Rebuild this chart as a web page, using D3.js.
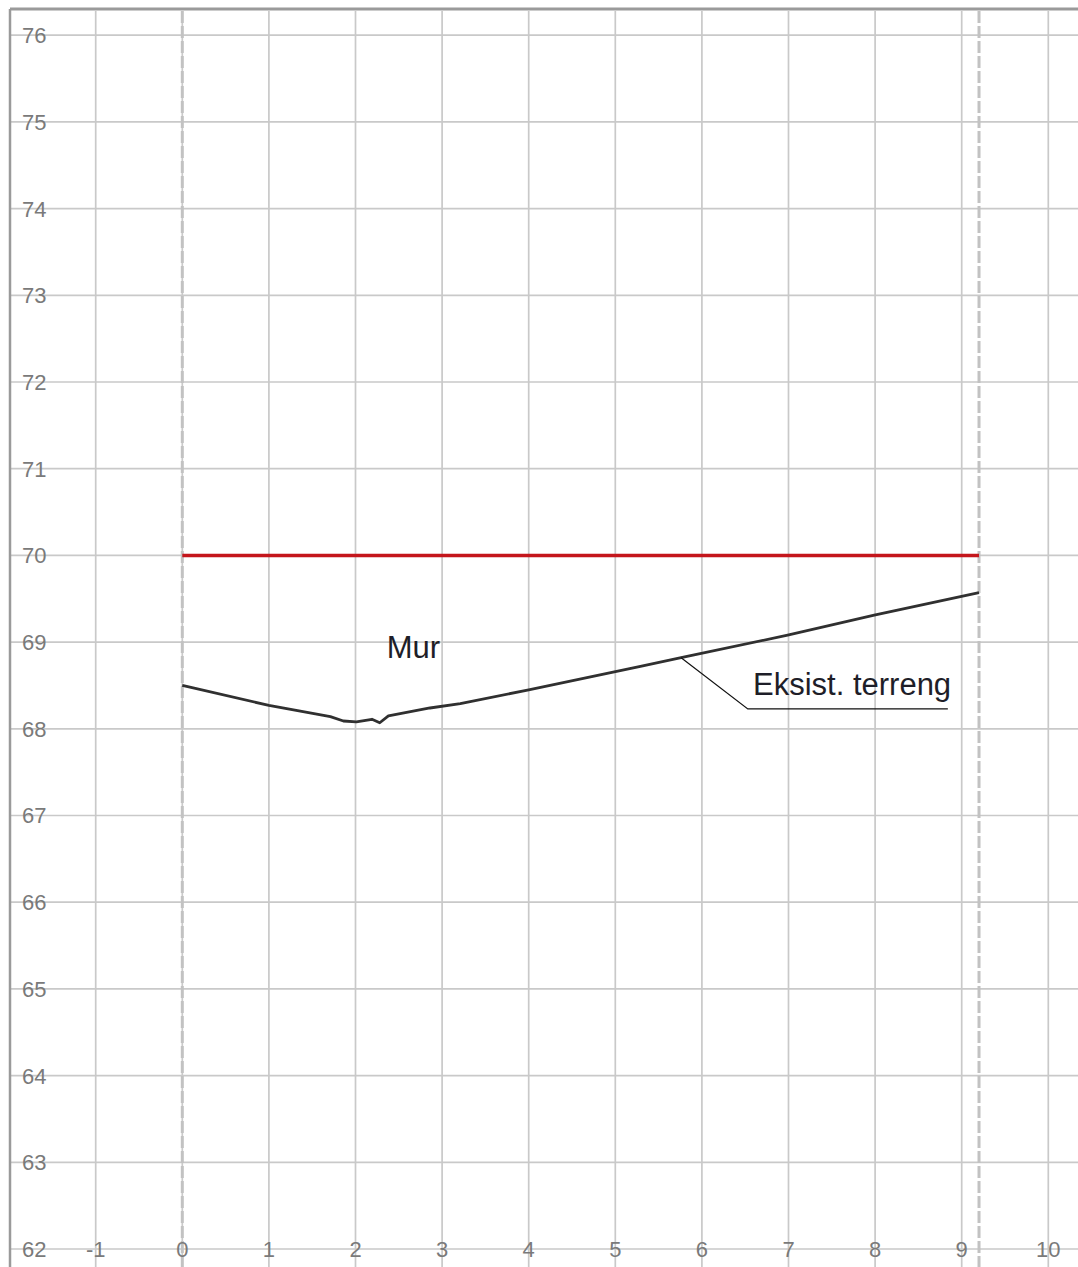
<!DOCTYPE html>
<html>
<head>
<meta charset="utf-8">
<script src="https://cdn.jsdelivr.net/npm/d3@7"></script>
<style>
  body { margin: 0; background: #fff; }
  svg { display: block; font-family: 'Liberation Sans', Arial, sans-serif; }
</style>
</head>
<body>
<svg id="chart" width="1078" height="1267"></svg>
<script>
// profile data (distance, level)
const terrainX = [0, 1.0, 1.71, 1.86, 2.01, 2.19, 2.28, 2.38, 2.86, 3.21, 4.0, 5.29, 5.76, 6.99, 7.99, 9.2];
const terrainY = [68.5, 68.27, 68.14, 68.09, 68.08, 68.11, 68.07, 68.15, 68.24, 68.29, 68.45, 68.72, 68.82, 69.08, 69.31, 69.57];
const wallX = [0, 9.2];
const wallY = [70, 70];
const boundaryX = [0, 9.2];
const xTicks = [-1, 0, 1, 2, 3, 4, 5, 6, 7, 8, 9, 10];
const yTicks = [62, 63, 64, 65, 66, 67, 68, 69, 70, 71, 72, 73, 74, 75, 76];
const labels = [
  { text: 'Mur', x: 2.36, y: 68.82 },
  { text: 'Eksist. terreng', x: 6.59, y: 68.39 },
];
const leaderX = [5.76, 6.53, 8.84];
const leaderY = [68.82, 68.23, 68.23];

const svg = d3.select('#chart');
const W = 1078, H = 1267;
const frame = { left: 10, top: 9 };

const x = d3.scaleLinear().domain([-1, 10]).range([95.7, 1048.3]);
const y = d3.scaleLinear().domain([62, 76]).range([1249, 35.2]);

// grid
svg.append('g')
  .selectAll('line')
  .data(yTicks)
  .enter()
  .append('line')
  .attr('x1', frame.left)
  .attr('x2', W)
  .attr('y1', d => y(d))
  .attr('y2', d => y(d))
  .style('stroke', '#c9c9c9')
  .style('stroke-width', 1.7);

svg.append('g')
  .selectAll('line')
  .data(xTicks)
  .enter()
  .append('line')
  .attr('x1', d => x(d))
  .attr('x2', d => x(d))
  .attr('y1', frame.top + 2)
  .attr('y2', H)
  .style('stroke', '#c9c9c9')
  .style('stroke-width', 1.7);

// section boundaries (dashed)
svg.append('g')
  .selectAll('line')
  .data(boundaryX)
  .enter()
  .append('line')
  .attr('x1', d => x(d))
  .attr('x2', d => x(d))
  .attr('y1', frame.top + 2)
  .attr('y2', H)
  .style('stroke', '#c2c2c2')
  .style('stroke-width', 3)
  .style('stroke-dasharray', '12,3');

// frame
svg.append('line')
  .attr('x1', frame.left).attr('x2', W)
  .attr('y1', frame.top).attr('y2', frame.top)
  .style('stroke', '#9a9a9a')
  .style('stroke-width', 3);
svg.append('line')
  .attr('x1', frame.left).attr('x2', frame.left)
  .attr('y1', frame.top).attr('y2', H)
  .style('stroke', '#9a9a9a')
  .style('stroke-width', 2.5);

// tick labels
svg.append('g')
  .selectAll('text')
  .data(yTicks)
  .enter()
  .append('text')
  .attr('x', 22)
  .attr('y', d => y(d))
  .attr('dy', '0.36em')
  .style('font-size', '22px')
  .style('fill', '#7a7a7a')
  .text(d => d);

svg.append('g')
  .selectAll('text')
  .data(xTicks)
  .enter()
  .append('text')
  .attr('x', d => x(d))
  .attr('y', y(62))
  .attr('dy', '0.36em')
  .attr('text-anchor', 'middle')
  .style('font-size', '22px')
  .style('fill', '#7a7a7a')
  .text(d => d);

const line = d3.line()
  .x(d => x(d[0]))
  .y(d => y(d[1]));

// wall
svg.append('path')
  .datum(d3.zip(wallX, wallY))
  .attr('d', line)
  .style('fill', 'none')
  .style('stroke', '#c4161c')
  .style('stroke-width', 3.5);

// existing terrain
svg.append('path')
  .datum(d3.zip(terrainX, terrainY))
  .attr('d', line)
  .style('fill', 'none')
  .style('stroke', '#303030')
  .style('stroke-width', 2.8)
  .style('stroke-linejoin', 'round');

// leader for terrain label
svg.append('path')
  .datum(d3.zip(leaderX, leaderY))
  .attr('d', line)
  .style('fill', 'none')
  .style('stroke', '#111')
  .style('stroke-width', 1.2);

svg.append('g')
  .selectAll('text')
  .data(labels)
  .enter()
  .append('text')
  .attr('x', d => x(d.x))
  .attr('y', d => y(d.y))
  .style('font-size', '31px')
  .style('fill', '#1e1e28')
  .text(d => d.text);
</script>
</body>
</html>
